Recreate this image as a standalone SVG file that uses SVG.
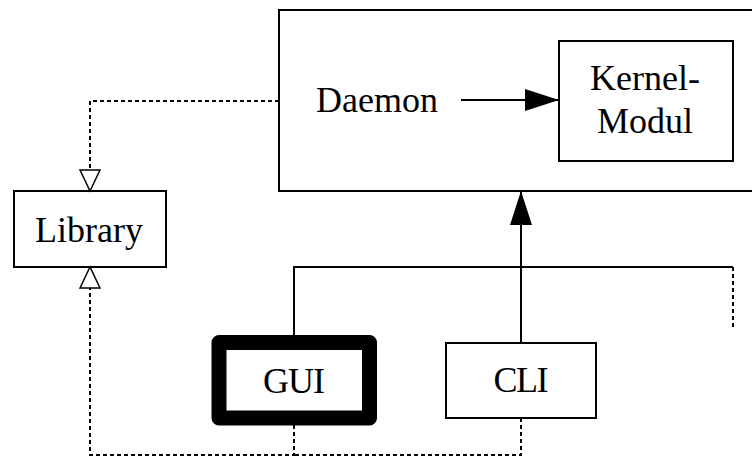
<svg xmlns="http://www.w3.org/2000/svg" width="752" height="458" viewBox="0 0 752 458">
<style>
.box{fill:#fff;stroke:#000;stroke-width:2}
.lbl{font-family:"Liberation Serif","DejaVu Serif",serif;font-size:36px;fill:#000;text-anchor:middle}
.solid{fill:none;stroke:#000;stroke-width:2}
.dash{fill:none;stroke:#000;stroke-width:2;stroke-dasharray:4 3}
</style>
<defs>
<marker id="filled" markerWidth="34" markerHeight="24" refX="34" refY="11" orient="auto" markerUnits="userSpaceOnUse">
<path d="M0,0 L34,11 L0,22 Z" fill="#000"/>
</marker>
<marker id="hollow" markerWidth="24" markerHeight="24" refX="22" refY="11" orient="auto" markerUnits="userSpaceOnUse">
<path d="M1,1 L22,11 L1,21 Z" fill="#fff" stroke="#000" stroke-width="1.5"/>
</marker>
</defs>
<g id="daemon">
<rect class="box" x="279" y="10" width="490" height="181"/>
<text class="lbl" x="377" y="112">Daemon</text>
</g>
<g id="kernel">
<rect class="box" x="559" y="41" width="174" height="120"/>
<text class="lbl" x="645" y="90">Kernel-</text>
<text class="lbl" x="645" y="133">Modul</text>
</g>
<g id="library">
<rect class="box" x="14" y="191" width="152" height="76"/>
<text class="lbl" x="89" y="242">Library</text>
</g>
<g id="gui">
<rect x="219" y="342.5" width="150.5" height="75.5" fill="#fff" stroke="#000" stroke-width="15" stroke-linejoin="round"/>
<text class="lbl" x="294" y="393" textLength="62">GUI</text>
</g>
<g id="cli">
<rect class="box" x="446" y="343" width="150" height="75"/>
<text class="lbl" x="521" y="392" textLength="55">CLI</text>
</g>
<g id="connectors">
<path class="solid" d="M461,100 L559,100" marker-end="url(#filled)"/>
<path class="solid" d="M521,343 L521,191" marker-end="url(#filled)"/>
<path class="solid" d="M521,267 L521,225" stroke-width="3"/>
<path class="solid" d="M294,335 L294,267 L733,267"/>
<path class="dash" d="M733,267 L733,327"/>
<path class="dash" d="M279,101 L90,101 L90,191" marker-end="url(#hollow)"/>
<path class="dash" d="M294,425 L294,455 L90,455 L90,267" marker-end="url(#hollow)"/>
<path class="dash" d="M521,418 L521,455 L294,455"/>
</g>
</svg>
